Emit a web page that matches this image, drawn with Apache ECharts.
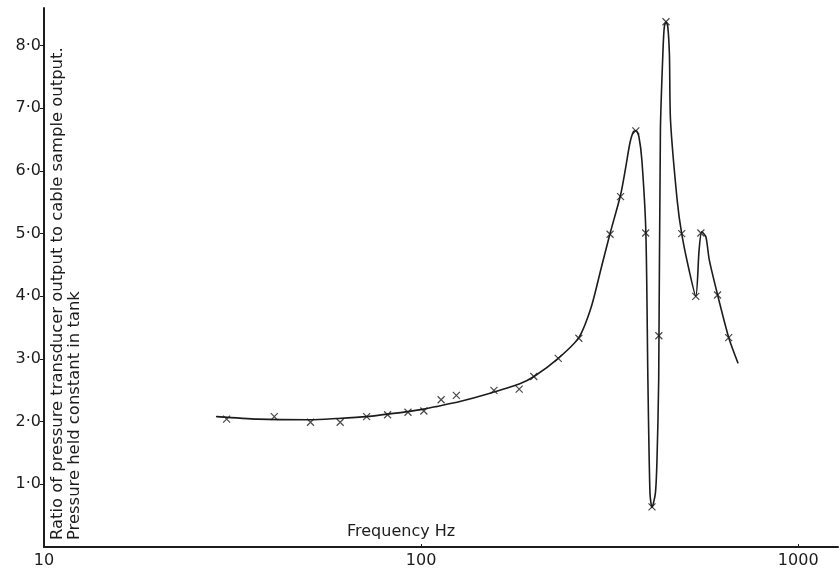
<!DOCTYPE html>
<html>
<head>
<meta charset="utf-8">
<script src="https://cdn.jsdelivr.net/npm/echarts@6/dist/echarts.min.js"></script>
<style>
  html, body { margin: 0; padding: 0; background: #ffffff; }
  #chart { width: 840px; height: 572px; }
</style>
</head>
<body>
<div id="chart"></div>
<script>
// Fitted curve (frequency Hz, ratio)
const curveFreq = [28.7, 36.9, 50.9, 59.8, 71.7, 81.3, 92.3, 101.7, 109.7, 126.7, 150, 182, 199.3, 231.1, 261.9, 282.6, 300, 316.6, 338.1, 350, 358, 366, 372, 378, 385, 394.5, 399.4, 404.5, 409.5, 418.1, 422.2, 426.6, 431.1, 438, 441.5, 446.3, 451, 455.5, 458.6, 477.6, 490.9, 513.5, 535, 546, 555, 569, 581, 611.4, 654.4, 691.8];
const curveVal  = [2.08, 2.04, 2.03, 2.05, 2.08, 2.12, 2.16, 2.20, 2.24, 2.32, 2.44, 2.60, 2.72, 3.01, 3.34, 3.83, 4.44, 4.99, 5.62, 6.11, 6.45, 6.63, 6.64, 6.55, 6.17, 5.01, 2.66, 0.86, 0.63, 0.86, 1.39, 2.66, 6.65, 7.93, 8.30, 8.38, 8.30, 7.85, 6.80, 5.53, 5.00, 4.42, 4.00, 4.74, 5.03, 4.95, 4.58, 4.02, 3.34, 2.94];

// Measured points (crosses)
const pointFreq = [30.5, 40.8, 50.9, 61, 71.7, 81.5, 92.3, 101.7, 113, 124, 156, 182, 199, 231, 262, 317, 338, 371, 394, 409.5, 427, 446, 491, 535, 552, 611, 654];
const pointVal  = [2.04, 2.08, 1.99, 1.99, 2.08, 2.11, 2.15, 2.17, 2.35, 2.42, 2.50, 2.52, 2.72, 3.01, 3.33, 4.99, 5.59, 6.64, 5.01, 0.64, 3.37, 8.38, 5.00, 4.00, 5.01, 4.02, 3.34];

// Axis ticks
const xTickLabels = [10, 100, 1000];
const yTickValues = [1, 2, 3, 4, 5, 6, 7, 8];

const yTitleLine1 = 'Ratio of pressure transducer output to cable sample output.';
const yTitleLine2 = 'Pressure held constant in tank';
const xTitle = 'Frequency Hz';

const ink = '#1c1c1c';
const font = 'DejaVu Sans';

const curveData = curveFreq.map((f, i) => [f, curveVal[i]]);
const pointData = pointFreq.map((f, i) => [f, pointVal[i]]);

const chart = echarts.init(document.getElementById('chart'), null, { renderer: 'canvas' });
chart.setOption({
  animation: false,
  backgroundColor: '#ffffff',
  grid: { left: 44, right: 2, top: 8, bottom: 25, containLabel: false },
  xAxis: {
    type: 'log',
    logBase: 10,
    min: 10,
    max: 1275,
    axisLine: { show: true, lineStyle: { color: ink, width: 2 } },
    axisTick: { show: true, inside: true, length: 3, lineStyle: { color: ink, width: 1 } },
    splitLine: { show: false },
    minorTick: { show: false },
    axisLabel: {
      color: ink, fontFamily: font, fontSize: 16, margin: 6,
      showMaxLabel: false,
      formatter: function (v) { return xTickLabels.indexOf(Math.round(v)) >= 0 ? String(Math.round(v)) : ''; }
    }
  },
  yAxis: {
    type: 'value',
    min: 0,
    max: 8.6,
    axisLine: { show: true, lineStyle: { color: ink, width: 2 } },
    axisTick: { show: true, inside: false, length: 4, customValues: yTickValues, lineStyle: { color: ink, width: 1 } },
    splitLine: { show: false },
    axisLabel: {
      color: ink, fontFamily: font, fontSize: 16, margin: 3,
      customValues: yTickValues,
      formatter: function (v) {
        if (v === 0 || Math.abs(v - Math.round(v)) > 1e-6) return '';
        return v.toFixed(1).replace('.', '\u00B7');
      }
    }
  },
  series: [
    {
      type: 'line',
      data: curveData,
      smooth: 0.25,
      showSymbol: false,
      lineStyle: { color: ink, width: 1.6, join: 'round', cap: 'round' },
      z: 2
    },
    {
      type: 'scatter',
      data: pointData,
      symbol: 'path://M0,0L10,10M10,0L0,10',
      symbolSize: 7,
      itemStyle: { color: 'rgba(0,0,0,0)', borderColor: ink, borderWidth: 1.2 },
      z: 3
    }
  ],
  graphic: [
    {
      type: 'text', x: 58, y: 540, rotation: Math.PI / 2,
      style: { text: yTitleLine1, fill: ink, font: '16.4px "' + font + '"', textAlign: 'left', textVerticalAlign: 'middle' }
    },
    {
      type: 'text', x: 75, y: 540, rotation: Math.PI / 2,
      style: { text: yTitleLine2, fill: ink, font: '16.4px "' + font + '"', textAlign: 'left', textVerticalAlign: 'middle' }
    },
    {
      type: 'text', x: 347, y: 532,
      style: { text: xTitle, fill: ink, font: '16px "' + font + '"', textAlign: 'left', textVerticalAlign: 'middle' }
    }
  ]
});
</script>
</body>
</html>
